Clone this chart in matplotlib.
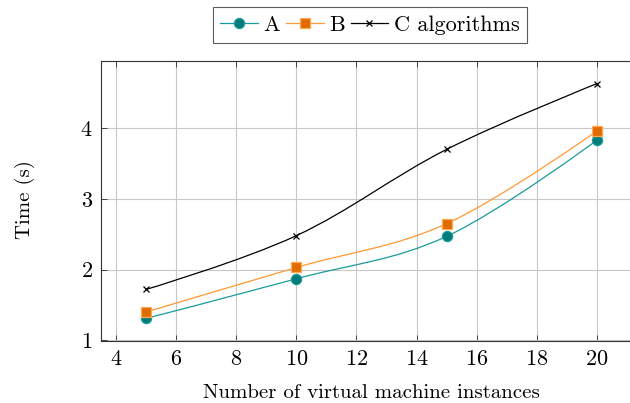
import numpy as np
import matplotlib
matplotlib.use("Agg")
import matplotlib.pyplot as plt
from matplotlib.path import Path
from matplotlib.patches import PathPatch
from matplotlib.lines import Line2D

x_vals = [5, 10, 15, 20]
series_a = [1.31, 1.87, 2.47, 3.83]
series_b = [1.40, 2.03, 2.65, 3.96]
series_c = [1.72, 2.48, 3.70, 4.63]
labels = ["A", "B", "C algorithms"]
x_ticks = [4, 6, 8, 10, 12, 14, 16, 18, 20]
y_ticks = [1, 2, 3, 4]

plt.rcParams['font.family'] = ['cmr10', 'DejaVu Serif']
plt.rcParams['mathtext.fontset'] = 'cm'
plt.rcParams['axes.formatter.use_mathtext'] = True
plt.rcParams['font.size'] = 15

fig = plt.figure(figsize=(6.3, 4.03), dpi=100)
W, H = 630, 403
ax_l, ax_r, ax_t, ax_b = 101, 642, 61, 341
ax = fig.add_axes([ax_l / W, 1 - ax_b / H, (ax_r - ax_l) / W, (ax_b - ax_t) / H])

def smooth_path(xs, ys, k=0.18):
    pts = np.column_stack([xs, ys]).astype(float)
    n = len(pts)
    verts = [pts[0]]
    codes = [Path.MOVETO]
    for i in range(n - 1):
        p0 = pts[i]
        p1 = pts[i + 1]
        prev = pts[i - 1] if i > 0 else pts[i]
        nxt = pts[i + 2] if i + 2 < n else pts[i + 1]
        c1 = p0 + k * (p1 - prev) if i > 0 else p0
        c2 = p1 - k * (nxt - p0) if i + 2 < n else p1
        verts += [c1, c2, p1]
        codes += [Path.CURVE4] * 3
    return Path(verts, codes)

styles = [
    dict(line='#1a9a9a', marker='o', mfc='#007a7a', mec='#1a9a9a', ms=7.3),
    dict(line='#ff9933', marker='s', mfc='#e06c00', mec='#ffaa55', ms=7.0),
    dict(line='#000000', marker='x', mfc='#000000', mec='#000000', ms=5.0),
]
handles = []
for ys, st, lab in zip([series_a, series_b, series_c], styles, labels):
    ax.add_patch(PathPatch(smooth_path(x_vals, ys), fill=False, edgecolor=st['line'],
                           lw=0.9, zorder=3))
    ax.plot(x_vals, ys, linestyle='none', marker=st['marker'], ms=st['ms'],
            mfc=st['mfc'], mec=st['mec'], mew=0.9, zorder=4)
    handles.append(Line2D([], [], color=st['line'], lw=0.9, marker=st['marker'],
                          ms=st['ms'], mfc=st['mfc'], mec=st['mec'], mew=0.9))

ax.set_xlim(3.5, 21.5)
ax.set_ylim(0.99, 4.95)
ax.set_xticks(x_ticks)
ax.set_yticks(y_ticks)
ax.grid(True, color='#c8c8c8', lw=0.8)
ax.set_axisbelow(True)
ax.tick_params(direction='in', top=True, right=True, length=4, width=0.7,
               color='#444444', labelsize=16, pad=6)
for sp in ax.spines.values():
    sp.set_linewidth(0.8)
    sp.set_color('#333333')

ax.set_xlabel('Number of virtual machine instances', fontsize=15, labelpad=11)
fig.text(25 / W, 1 - 200 / H, 'Time (s)', rotation=90, ha='center', va='center',
         fontsize=15)

leg = fig.legend(handles=handles, labels=labels, loc='center',
                 bbox_to_anchor=(370 / W, 1 - 25 / H), ncol=3, frameon=True,
                 fancybox=False, edgecolor='#333333', handlelength=1.7,
                 handletextpad=0.25, columnspacing=0.25, borderpad=0.35,
                 borderaxespad=0.2, fontsize=16)
leg.get_frame().set_linewidth(0.8)

fig.savefig('out.png', dpi=100)
